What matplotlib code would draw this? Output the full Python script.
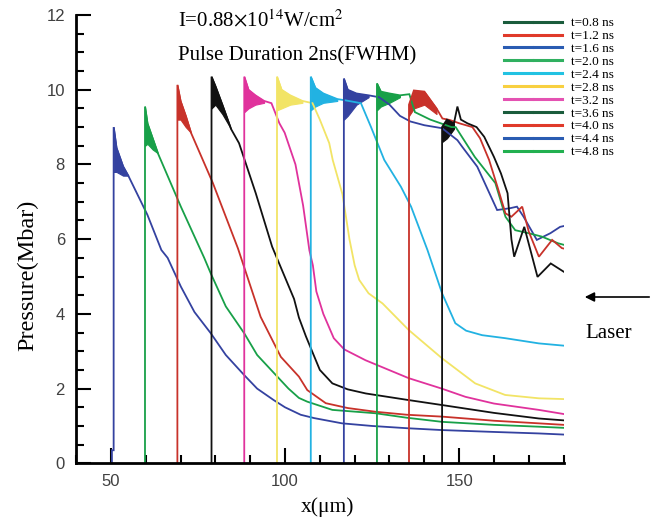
import matplotlib
matplotlib.use("Agg")
import matplotlib.pyplot as plt
from matplotlib.lines import Line2D
from matplotlib.legend_handler import HandlerTuple
from matplotlib.patches import FancyArrowPatch
from matplotlib.ticker import MultipleLocator

# pressure profiles P(x) at successive times; each starts at the shock front
x_08 = [50.3, 50.3, 50.8, 50.8, 51.6, 53.5, 55.0, 60.5, 64.5, 66.3, 70.1, 74.0, 78.7, 83.0, 88.3, 92.0,
        96.8, 100.0, 104.5, 108.4, 116.4, 125.0, 135.0, 145.1, 160.0, 172.9, 180.0]
p_08 = [0.0, 0.35, 0.35, 9.0, 8.45, 7.95, 7.7, 6.65, 5.71, 5.5, 4.73, 4.05, 3.48, 2.9, 2.36, 2.0,
        1.69, 1.5, 1.3, 1.21, 1.07, 1.0, 0.94, 0.89, 0.84, 0.8, 0.77]

x_12 = [59.8, 59.8, 60.5, 62.0, 63.5, 70.1, 76.8, 78.7, 83.0, 88.3, 92.0, 96.9, 101.0, 104.0, 106.4,
        113.6, 126.0, 135.0, 145.1, 160.0, 172.9, 180.0]
p_12 = [0.0, 9.55, 9.1, 8.7, 8.3, 6.87, 5.5, 5.08, 4.2, 3.48, 2.9, 2.41, 2.0, 1.75, 1.65,
        1.43, 1.34, 1.22, 1.11, 1.03, 0.98, 0.95]

x_16 = [69.1, 69.1, 70.0, 71.5, 73.0, 79.3, 86.5, 93.0, 98.8, 104.0, 106.4, 111.7, 118.0, 126.0,
        135.0, 145.1, 160.0, 172.9, 180.0]
p_16 = [0.0, 10.13, 9.7, 9.3, 8.85, 7.5, 5.75, 3.92, 2.85, 2.32, 1.96, 1.61, 1.48, 1.38,
        1.3, 1.25, 1.14, 1.07, 1.03]

x_20 = [78.9, 78.9, 80.0, 82.0, 84.5, 86.8, 91.6, 96.3, 99.0, 102.6, 104.0, 106.0, 108.0, 110.0,
        113.6, 118.0, 123.2, 135.0, 145.1, 160.0, 172.9, 180.0]
p_20 = [0.0, 10.35, 10.1, 9.6, 8.95, 8.57, 7.23, 5.8, 5.2, 4.4, 3.9, 3.4, 2.95, 2.5,
        2.14, 1.98, 1.87, 1.7, 1.56, 1.35, 1.2, 1.15]

x_24 = [88.3, 88.3, 89.5, 91.5, 94.0, 96.1, 98.4, 99.9, 103.0, 105.2, 107.0, 108.0, 109.0, 111.0,
        114.0, 117.0, 123.1, 135.5, 145.0, 151.8, 160.0, 172.9, 180.0]
p_24 = [0.0, 10.35, 10.0, 9.85, 9.7, 9.64, 9.1, 8.85, 8.0, 6.9, 5.7, 5.3, 4.6, 4.0,
        3.35, 3.05, 2.76, 2.28, 2.0, 1.78, 1.6, 1.43, 1.32]

x_28 = [97.7, 97.7, 99.0, 101.5, 105.0, 107.9, 110.0, 112.7, 113.7, 116.5, 118.5, 120.0, 121.3,
        124.0, 128.0, 135.5, 145.1, 154.6, 163.2, 172.9, 180.0]
p_28 = [0.0, 10.35, 10.0, 9.85, 9.7, 9.64, 9.2, 8.57, 8.12, 7.2, 6.0, 5.3, 4.91,
        4.55, 4.28, 3.57, 2.81, 2.14, 1.83, 1.74, 1.72]

x_32 = [107.4, 107.4, 108.7, 111.0, 115.0, 117.1, 121.8, 124.7, 128.5, 133.3, 136.2, 140.9, 145.1,
        148.9, 152.0, 156.6, 163.2, 172.9, 180.0]
p_32 = [0.0, 10.35, 10.05, 9.9, 9.75, 9.72, 9.64, 9.0, 8.12, 7.4, 6.87, 5.71, 4.55,
        3.75, 3.55, 3.43, 3.35, 3.21, 3.15]

x_36 = [116.9, 116.9, 118.0, 120.5, 124.0, 127.0, 130.0, 133.0, 136.0, 140.0, 145.1, 149.5, 150.9,
        155.2, 160.9, 164.7, 166.6, 168.5, 172.3, 176.2, 179.0, 180.0]
p_36 = [0.0, 10.3, 10.0, 9.9, 9.85, 9.8, 9.6, 9.3, 9.15, 9.05, 8.97, 8.65, 8.47,
        7.94, 6.78, 6.83, 6.87, 6.6, 5.98, 6.16, 6.33, 6.35]

x_40 = [126.4, 126.4, 127.5, 130.0, 133.0, 135.7, 137.3, 141.7, 147.8, 149.0, 154.5, 160.4, 163.3,
        166.1, 169.9, 173.7, 178.4, 180.0]
p_40 = [0.0, 10.17, 9.95, 9.9, 9.85, 9.88, 9.4, 9.2, 9.0, 9.0, 8.2, 7.5, 6.6,
        6.24, 6.16, 6.07, 5.89, 5.85]

x_44 = [135.6, 135.6, 137.0, 140.0, 143.5, 145.2, 147.3, 150.1, 153.8, 156.0, 158.6, 161.0, 163.3,
        165.0, 168.1, 170.0, 172.9, 176.7, 179.5, 180.0]
p_44 = [0.0, 9.6, 9.98, 9.95, 9.5, 9.23, 9.19, 9.1, 9.0, 8.7, 8.12, 7.4, 6.69,
        6.6, 6.87, 6.2, 5.53, 5.98, 5.76, 5.75]

x_48 = [145.1, 145.1, 146.5, 148.5, 149.5, 150.5, 152.4, 155.0, 157.2, 160.0, 162.0, 163.9, 165.0,
        165.8, 168.7, 172.5, 176.3, 180.0]
p_48 = [0.0, 9.0, 9.2, 9.1, 9.55, 9.2, 9.1, 9.0, 8.74, 8.2, 7.76, 7.23, 6.0,
        5.53, 6.33, 4.99, 5.35, 5.13]

# noisy band just behind each front: x, lower and upper edge
band_x_08, band_lo_08, band_hi_08 = [50.8, 51.6, 53.5, 55.0], [7.8, 7.8, 7.7, 7.7], [9.0, 8.45, 7.95, 7.7]
band_x_12, band_lo_12, band_hi_12 = [59.8, 60.5, 62.0, 63.5], [8.5, 8.55, 8.4, 8.3], [9.55, 9.1, 8.7, 8.3]
band_x_16, band_lo_16, band_hi_16 = [69.1, 70.0, 71.5, 73.0], [9.2, 9.2, 9.0, 8.85], [10.13, 9.7, 9.3, 8.85]
band_x_20, band_lo_20, band_hi_20 = [78.9, 80.0, 82.0, 84.5], [9.5, 9.6, 9.35, 8.95], [10.35, 10.1, 9.6, 8.95]
band_x_24, band_lo_24, band_hi_24 = [88.3, 89.5, 91.5, 94.0], [9.4, 9.5, 9.6, 9.65], [10.35, 10.0, 9.85, 9.7]
band_x_28, band_lo_28, band_hi_28 = [97.7, 99.0, 101.5, 105.0], [9.45, 9.5, 9.6, 9.65], [10.35, 10.0, 9.85, 9.7]
band_x_32, band_lo_32, band_hi_32 = [107.4, 108.7, 111.0, 115.0], [9.45, 9.55, 9.65, 9.7], [10.35, 10.05, 9.9, 9.75]
band_x_36, band_lo_36, band_hi_36 = [116.9, 118.0, 120.5, 124.0], [9.2, 9.3, 9.6, 9.8], [10.3, 10.0, 9.9, 9.85]
band_x_40, band_lo_40, band_hi_40 = [126.4, 127.5, 130.0, 133.0], [9.45, 9.55, 9.65, 9.8], [10.17, 9.95, 9.9, 9.85]
band_x_44, band_lo_44, band_hi_44 = [135.6, 137.0, 140.0, 143.5], [9.3, 9.5, 9.6, 9.35], [9.6, 9.98, 9.95, 9.5]
band_x_48, band_lo_48, band_hi_48 = [145.1, 146.5, 148.5], [8.6, 8.7, 8.95], [9.0, 9.2, 9.1]

profiles = [(x_08, p_08), (x_12, p_12), (x_16, p_16), (x_20, p_20), (x_24, p_24), (x_28, p_28),
            (x_32, p_32), (x_36, p_36), (x_40, p_40), (x_44, p_44), (x_48, p_48)]
bands = [(band_x_08, band_lo_08, band_hi_08), (band_x_12, band_lo_12, band_hi_12),
         (band_x_16, band_lo_16, band_hi_16), (band_x_20, band_lo_20, band_hi_20),
         (band_x_24, band_lo_24, band_hi_24), (band_x_28, band_lo_28, band_hi_28),
         (band_x_32, band_lo_32, band_hi_32), (band_x_36, band_lo_36, band_hi_36),
         (band_x_40, band_lo_40, band_hi_40), (band_x_44, band_lo_44, band_hi_44),
         (band_x_48, band_lo_48, band_hi_48)]
curve_colors = ["#3442a0", "#18a048", "#c8322a", "#111111", "#e0329c", "#f2e466", "#22b2e2",
                "#3442a0", "#18a048", "#c8322a", "#111111"]

times = ["0.8", "1.2", "1.6", "2.0", "2.4", "2.8", "3.2", "3.6", "4.0", "4.4", "4.8"]
legend_colors = ["#1a5c3c", "#e03a2a", "#2a5cb2", "#30b060", "#22c2e2", "#f8d040",
                 "#e452b2", "#1a5c3c", "#e03a2a", "#2a5cb2", "#22b050"]

plt.rcParams["font.family"] = ["Liberation Serif", "DejaVu Serif"]

fig = plt.figure(figsize=(6.56, 5.21), dpi=100)
ax = fig.add_axes([0.1159, 0.1107, 0.7433, 0.8605])

for (xs, ps), (bx, blo, bhi), c in zip(profiles, bands, curve_colors):
    ax.fill_between(bx, blo, bhi, color=c, lw=0.8, edgecolor=c)
    ax.plot(xs, ps, color=c, lw=1.3, solid_joinstyle="miter")

ax.set_xlim(40, 180)
ax.set_ylim(0, 12)
ax.xaxis.set_major_locator(MultipleLocator(50))
ax.xaxis.set_minor_locator(MultipleLocator(10))
ax.yaxis.set_major_locator(MultipleLocator(2))
ax.yaxis.set_minor_locator(MultipleLocator(0.5))
ax.tick_params(which="both", direction="in", width=1.5, colors="black")
ax.tick_params(which="major", length=11, pad=8, labelsize=12, labelcolor="#404040")
ax.tick_params(which="minor", length=6)
for lab in ax.get_xticklabels() + ax.get_yticklabels():
    lab.set_family("Liberation Sans")
for side in ["top", "right"]:
    ax.spines[side].set_visible(False)
for side in ["left", "bottom"]:
    ax.spines[side].set_linewidth(2)

fig.text(28 / 656, 1 - 275 / 521, "Pressure(Mbar)", rotation=90, ha="center", va="center", fontsize=17.5)
fig.text(328 / 656, 1 - 512 / 521, "x(\u03bcm)", ha="center", va="baseline", fontsize=15.5)

fig.text(178 / 656, 1 - 26 / 521, r"I=0.88$\times$10$^{14}$W/cm$^{2}$", ha="left", va="baseline",
         fontsize=15, math_fontfamily="stix")
fig.text(178 / 656, 1 - 60 / 521, "Pulse Duration 2ns(FWHM)", ha="left", va="baseline", fontsize=15)

handles = [(Line2D([], [], color=c, lw=2.2), Line2D([], [], color=c, lw=2.2)) for c in legend_colors]
labels = ["t=%s ns" % t for t in times]
fig.legend(handles, labels, handler_map={tuple: HandlerTuple(ndivide=None, pad=0.15)},
           loc="upper left", bbox_to_anchor=(504 / 656, 1 - 17 / 521), frameon=False,
           fontsize=9.5, handlelength=4.4, handletextpad=0.7, labelspacing=0.05, borderpad=0,
           borderaxespad=0)

# laser drive coming in from the right
fig.add_artist(FancyArrowPatch((652 / 656, 1 - 297 / 521), (582 / 656, 1 - 297 / 521),
                               transform=fig.transFigure, arrowstyle="-|>",
                               mutation_scale=14, lw=1.2, color="black"))
fig.text(585 / 656, 1 - 338 / 521, "Laser", ha="left", va="baseline", fontsize=15)

fig.savefig("out.png", dpi=100)
